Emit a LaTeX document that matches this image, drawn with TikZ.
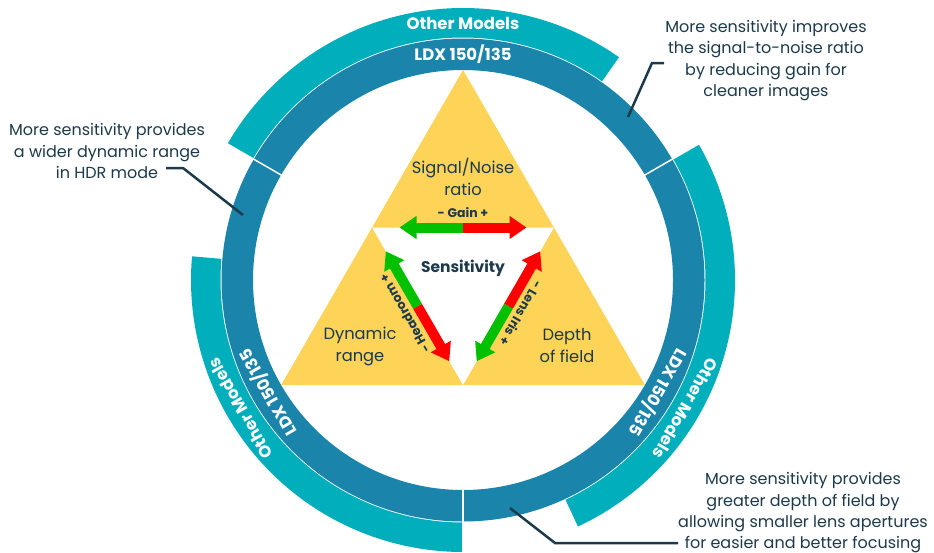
\documentclass[tikz,border=0pt]{standalone}
\usepackage{fontspec}
\setmainfont{Poppins}
\usetikzlibrary{arrows.meta}
\definecolor{ringblue}{RGB}{26,132,170}
\definecolor{ringteal}{RGB}{0,175,187}
\definecolor{triyellow}{RGB}{253,211,88}
\definecolor{textnavy}{RGB}{28,58,76}
\definecolor{arrgreen}{RGB}{0,192,0}
\definecolor{arrred}{RGB}{255,0,0}
\tikzset{
  callout/.style={align=center, text=textnavy, inner sep=0pt,
    font=\fontsize{16}{21.3}\selectfont},
  corner/.style={align=center, text=textnavy, inner sep=0pt,
    font=\fontsize{16.3}{22}\selectfont},
  ringlabel/.style={text=white, inner sep=0pt,
    font=\bfseries\fontsize{16.5}{16.5}\selectfont},
  arrlabel/.style={text=textnavy, inner sep=0pt,
    font=\bfseries\fontsize{12.5}{12.5}\selectfont},
  leader/.style={draw=textnavy, line width=2.5pt},
  halfarrow/.style={line width=10pt, -{Triangle[length=17pt,width=22pt]}},
  divider/.style={draw=white, line width=1.5pt}
}
\newcommand{\ringband}[5]{%
  \fill[#1] (#2:#4) arc[start angle=#2, end angle=#3, radius=#4]
    -- (#3:#5) arc[start angle=#3, end angle=#2, radius=#5] -- cycle;}

\begin{document}
\begin{tikzpicture}[x=1pt, y=1pt]
  \fill[white] (0,0) rectangle (934,-552);
  \useasboundingbox (0,0) rectangle (934,-552);
  \begin{scope}[shift={(463,-280)}]
    % outer bands and the LDX ring
    \ringband{ringteal}{55}{150}{242.5}{272}
    \ringband{ringteal}{175}{270}{242.5}{272}
    \ringband{ringteal}{-65}{30}{242.5}{272}
    \fill[ringblue, even odd rule] (0,0) circle (241.5) (0,0) circle (210);
    \foreach \a in {30,150,270}
      \draw[divider] (\a:208) -- (\a:274);
    \fill[triyellow] (90:210) -- (210:210) -- (330:210) -- cycle;
    \fill[white] (150:105) -- (270:105) -- (30:105) -- cycle;
    \node[ringlabel] (ldx0) at (90:225.5) {LDX 150/135};
    \node[ringlabel, rotate=120] (ldx1) at (210:225.5) {LDX 150/135};
    \node[ringlabel, rotate=-120] (ldx2) at (330:225.5) {LDX 150/135};
    \node[ringlabel] (other0) at (90:257) {Other Models};
    \node[ringlabel, rotate=120] (other1) at (210:257) {Other Models};
    \node[ringlabel, rotate=-120] (other2) at (330:257) {Other Models};
    \node[corner] (snr) at (0,103) {Signal/Noise\\ratio};
    \node[corner] (dyn) at (-103,-66) {Dynamic\\range};
    \node[corner] (dof) at (104,-66) {Depth\\of field};
    \node[corner, font=\bfseries\fontsize{15.5}{22}\selectfont] (sens) at (0,12) {Sensitivity};
    \foreach \rot/\mc/\pc/\lbl in {0/arrgreen/arrred/Gain,
        120/arrred/arrgreen/Headroom, 240/arrred/arrgreen/Lens Iris}{
      \begin{scope}[rotate=\rot]
        \coordinate (m\rot) at (0,52.5);
        \coordinate (l\rot) at (-63.5,52.5);
        \coordinate (r\rot) at (63.5,52.5);
        \draw[halfarrow, \mc] (m\rot) -- (l\rot);
        \draw[halfarrow, \pc] (m\rot) -- (r\rot);
        \node[arrlabel, rotate=\rot] (t\rot) at (0,67) {- \lbl\ +};
      \end{scope}
    }
  \end{scope}
  \node[callout] (snrnote) at (766,-60.5)
    {More sensitivity improves\\the signal-to-noise ratio\\by reducing gain for\\cleaner images};
  \node[callout] (hdrnote) at (107,-151)
    {More sensitivity provides\\a wider dynamic range\\in HDR mode};
  \node[callout] (dofnote) at (803,-513)
    {More sensitivity provides\\greater depth of field by\\allowing smaller lens apertures\\for easier and better focusing};
  \coordinate (snrtip) at (628,-117);
  \coordinate (snrknee) at (652,-63);
  \coordinate (snrend) at (664,-63);
  \coordinate (hdrtip) at (243,-215);
  \coordinate (hdrknee) at (183,-168);
  \coordinate (hdrend) at (166,-168);
  \coordinate (doftip) at (510,-508);
  \coordinate (dofknee) at (555,-543);
  \coordinate (dofend) at (678,-543);
  \draw[leader] (snrtip) -- (snrknee) -- (snrend);
  \draw[leader] (hdrtip) -- (hdrknee) -- (hdrend);
  \draw[leader] (doftip) -- (dofknee) -- (dofend);
\end{tikzpicture}
\end{document}
